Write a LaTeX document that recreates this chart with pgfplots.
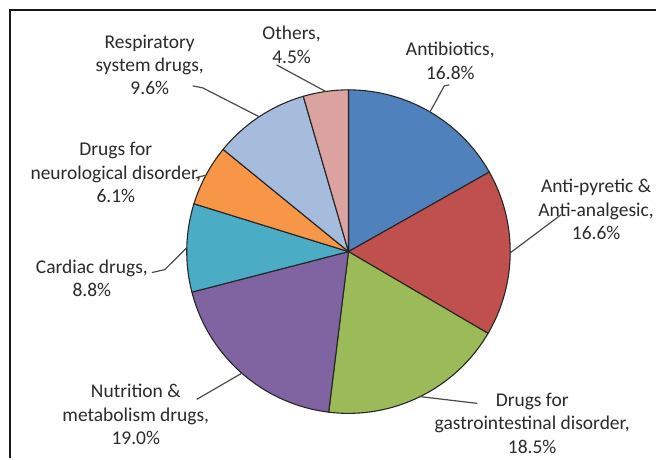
\documentclass[border=0pt]{standalone}
\usepackage{pgfplots}
\pgfplotsset{compat=1.18}
\usepackage{pgfplotstable}
\usepackage{fontspec}
\setmainfont{Carlito}

% slice colours
\definecolor{slice0}{HTML}{4F81BD}
\definecolor{slice1}{HTML}{C0504D}
\definecolor{slice2}{HTML}{9BBB59}
\definecolor{slice3}{HTML}{8064A2}
\definecolor{slice4}{HTML}{4BACC6}
\definecolor{slice5}{HTML}{F79646}
\definecolor{slice6}{HTML}{A6BCDD}
\definecolor{slice7}{HTML}{DBA3A0}
\definecolor{labeltext}{HTML}{2A2A2A}
\definecolor{leader}{HTML}{4A4A4A}

% share of each drug class (%), clockwise from 12 o'clock
\pgfplotstableread[col sep=comma]{
class,share
Antibiotics,16.8
Antipyretic,16.6
Gastrointestinal,18.5
Nutrition,19.0
Cardiac,8.8
Neurological,6.1
Respiratory,9.6
Others,4.5
}\shares

\def\total{99.9}
\def\cx{349}
\def\cy{207}
\def\rad{162}

\begin{document}
\begin{tikzpicture}
\begin{axis}[
  x=1pt, y=1pt,
  xmin=0, xmax=657, ymin=0, ymax=459,
  hide axis,
  clip=false,
  at={(0,0)}, anchor=origin,
  scale only axis,
]
% wedges
\pgfmathsetmacro\start{90}
\pgfplotsforeachungrouped \i in {0,...,7}{%
  \pgfplotstablegetelem{\i}{share}\of\shares
  \pgfmathsetmacro\sweep{\pgfplotsretval/\total*360}%
  \pgfmathsetmacro\stop{\start-\sweep}%
  \pgfmathsetmacro\mid{(\start+\stop)/2}%
  \expandafter\xdef\csname mid\i\endcsname{\mid}%
  \edef\wedge{\noexpand\filldraw[fill=slice\i, draw=black!85, line width=1.1pt, line join=round]
    (axis cs:\cx,\cy) -- ++(\start:\rad pt) arc[start angle=\start, end angle=\stop, radius=\rad pt] -- cycle;}%
  \wedge
  \global\let\start\stop
}
% leader lines from the middle of each wedge's rim
\edef\leaders{%
\noexpand\draw[leader, line width=1.2pt] (axis cs:\cx,\cy) ++(\csname mid0\endcsname:\rad pt) -- (axis cs:445,373) -- (axis cs:450,374);
\noexpand\draw[leader, line width=1.2pt] (axis cs:\cx,\cy) ++(\csname mid1\endcsname:\rad pt) -- (axis cs:562,244);
\noexpand\draw[leader, line width=1.2pt] (axis cs:\cx,\cy) ++(\csname mid2\endcsname:\rad pt) -- (axis cs:478,55);
\noexpand\draw[leader, line width=1.2pt] (axis cs:\cx,\cy) ++(\csname mid3\endcsname:\rad pt) -- (axis cs:197,59);
\noexpand\draw[leader, line width=1.2pt] (axis cs:\cx,\cy) ++(\csname mid4\endcsname:\rad pt) -- (axis cs:165,189) -- (axis cs:152,186);
\noexpand\draw[leader, line width=1.2pt] (axis cs:\cx,\cy) ++(\csname mid5\endcsname:\rad pt) -- (axis cs:196,281);
\noexpand\draw[leader, line width=1.2pt] (axis cs:\cx,\cy) ++(\csname mid6\endcsname:\rad pt) -- (axis cs:203,371) -- (axis cs:193,373);
\noexpand\draw[leader, line width=1.2pt] (axis cs:\cx,\cy) ++(\csname mid7\endcsname:\rad pt) -- (axis cs:277,394);
}
\leaders
% category labels
\begin{scope}[every node/.style={align=center, inner sep=0pt, text=labeltext,
    font=\fontsize{19.5}{23.5}\selectfont}]
\node at (axis cs:451,398) {Antibiotics,\\16.8\%};
\node at (axis cs:597,249) {Anti-pyretic \&\\Anti-analgesic,\\16.6\%};
\node at (axis cs:533,35) {Drugs for\\gastrointestinal disorder,\\18.5\%};
\node at (axis cs:136,44) {Nutrition \&\\metabolism drugs,\\19.0\%};
\node at (axis cs:92,180) {Cardiac drugs,\\8.8\%};
\node at (axis cs:116,286) {Drugs for\\neurological disorder,\\6.1\%};
\node at (axis cs:150,394) {Respiratory\\system drugs,\\9.6\%};
\node at (axis cs:292,414) {Others,\\4.5\%};
\end{scope}
% chart frame
\draw[black!90, line width=2pt] (axis cs:10,0) -- (axis cs:10,449) -- (axis cs:657,449);
\end{axis}
\useasboundingbox (0,0) rectangle (657pt,459pt);
\end{tikzpicture}
\end{document}
